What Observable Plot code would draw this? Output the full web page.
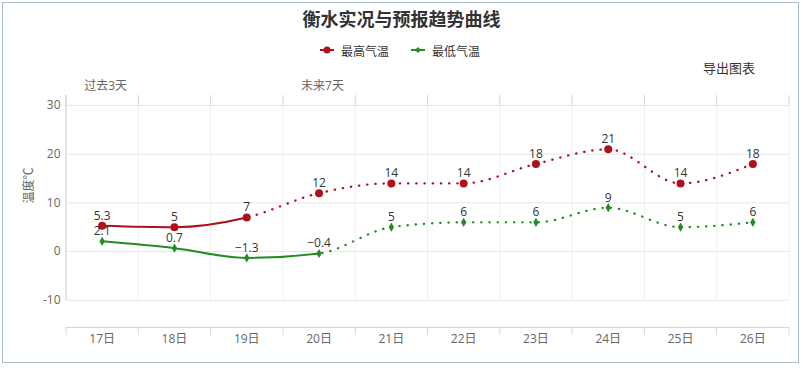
<!DOCTYPE html>
<html>
<head>
<meta charset="utf-8">
<script src="https://cdn.jsdelivr.net/npm/d3@7"></script>
<script src="https://cdn.jsdelivr.net/npm/@observablehq/plot@0.6"></script>
<style>
  html, body { margin: 0; padding: 0; background: #fff; }
  body { width: 803px; height: 368px; position: relative; overflow: hidden;
         font-family: "Open Sans", "Noto Sans CJK SC", sans-serif; }
  #frame { position: absolute; left: 2px; top: 2px; width: 795px; height: 359px;
           border: 1px solid #a9bccd; }
  #title { position: absolute; left: 0; top: 6px; width: 803px; text-align: center;
           font-family: "Noto Sans CJK SC", sans-serif; font-weight: bold; font-size: 18px;
           line-height: 24px; color: #333; }
  .legend-item { position: absolute; top: 41px; height: 18px; display: flex; align-items: center;
                 font-family: "Noto Sans CJK SC", sans-serif; font-size: 12px; color: #333; }
  .legend-item svg { margin-right: 7px; }
  #export { position: absolute; left: 703px; top: 59px; font-family: "Noto Sans CJK SC", sans-serif;
            font-size: 13px; line-height: 18px; color: #333; }
  #chart { position: absolute; left: 0; top: 74px; }
</style>
</head>
<body>
<div id="frame"></div>
<div id="title"></div>
<div id="legend"></div>
<div id="export"></div>
<div id="chart"></div>
<script>
// ---- data ----
const chartTitle = "衡水实况与预报趋势曲线";
const exportLabel = "导出图表";
const days = [17, 18, 19, 20, 21, 22, 23, 24, 25, 26];
const dayLabels = ["17日", "18日", "19日", "20日", "21日", "22日", "23日", "24日", "25日", "26日"];
const highTemps = [5.3, 5, 7, 12, 14, 14, 18, 21, 14, 18];
const lowTemps = [2.1, 0.7, -1.3, -0.4, 5, 6, 6, 9, 5, 6];
const highObservedUntil = 19;   // solid line up to this day, dotted after
const lowObservedUntil = 20;
const yTicks = [-10, 0, 10, 20, 30];
const periodLabels = ["过去3天", "未来7天"];
const periodDays = [17, 20];
const seriesNames = ["最高气温", "最低气温"];
const seriesColors = ["#b0101c", "#228b22"];
const yAxisLabel = "温度℃";

// ---- derived tables ----
const high = days.map((d, i) => ({day: d, t: highTemps[i]}));
const low = days.map((d, i) => ({day: d, t: lowTemps[i]}));
const xDomain = [days[0] - 0.5, days[days.length - 1] + 0.5];
const boundaries = d3.range(days.length + 1).map(i => days[0] - 0.5 + i);
const yDomain = [-15.6, 30];
const fmt = v => (v < 0 ? "\u2212" + Math.abs(v) : String(v));

// ---- HTML title / legend ----
document.getElementById("title").textContent = chartTitle;
document.getElementById("export").textContent = exportLabel;
const legendLefts = [320, 411];
seriesNames.forEach((name, i) => {
  const item = document.createElement("div");
  item.className = "legend-item";
  item.style.left = legendLefts[i] + "px";
  const marker = i === 0
    ? `<circle cx="7" cy="5" r="3.5" fill="${seriesColors[i]}"/>`
    : `<path d="M7,2 L10,5 L7,8 L4,5 Z" fill="${seriesColors[i]}"/>`;
  item.innerHTML = `<svg width="14" height="10"><line x1="0" y1="5" x2="14" y2="5" stroke="${seriesColors[i]}" stroke-width="2"/>${marker}</svg><span>${name}</span>`;
  document.getElementById("legend").appendChild(item);
});

// ---- chart ----
const W = 803, H = 290;
const plot = Plot.plot({
  width: W, height: H,
  marginLeft: 65.5, marginRight: 14.5, marginTop: 31, marginBottom: 37,
  x: {type: "linear", domain: xDomain, axis: null},
  y: {type: "linear", domain: yDomain, axis: null},
  style: {background: "transparent", fontFamily: "'Open Sans', 'Noto Sans CJK SC', sans-serif", fontSize: "12px", overflow: "visible"},
  marks: [
    // grid
    Plot.ruleY(yTicks, {y: d => d, stroke: "#e6e6e6", strokeWidth: 1}),
    Plot.ruleX(boundaries, {x: d => d, y1: yTicks[yTicks.length - 1], y2: yTicks[0], stroke: "#efefef"}),
    // top ticks
    Plot.ruleX(boundaries, {x: d => d, y1: yDomain[1], y2: yDomain[1], insetTop: -10, stroke: "#d4d4d4"}),
    // left axis line
    Plot.ruleX([xDomain[0]], {x: d => d, y1: yTicks[yTicks.length - 1], y2: yTicks[0], insetTop: -10, stroke: "#d0d0d0"}),
    // bottom axis line + ticks
    Plot.ruleY([yDomain[0]], {y: d => d, stroke: "#ccd6eb"}),
    Plot.ruleX(boundaries, {x: d => d, y1: yDomain[0], y2: yDomain[0], insetBottom: -8, stroke: "#ccd6eb"}),
    // axis labels
    Plot.text(days, {x: d => d, frameAnchor: "bottom", dy: 15, text: (d, i) => dayLabels[i], fill: "#666"}),
    Plot.text(yTicks, {y: d => d, frameAnchor: "left", dx: -5.5, textAnchor: "end", text: d => String(d), fill: "#666"}),
    Plot.text(periodLabels, {x: (d, i) => periodDays[i], frameAnchor: "top", dy: -24, dx: 3.5, text: d => d, fill: "#666"}),
    Plot.text([yAxisLabel], {frameAnchor: "left", rotate: -90, dx: -37, dy: -13, text: d => d, fill: "#666", fontFamily: "'Noto Sans CJK SC', sans-serif"}),
    // lines (solid and dotted versions, clipped afterwards)
    Plot.line(high, {x: "day", y: "t", stroke: seriesColors[0], strokeWidth: 2, curve: "monotone-x"}),
    Plot.line(high, {x: "day", y: "t", stroke: seriesColors[0], strokeWidth: 2.3, strokeDasharray: "0.3 7.9", strokeLinecap: "round", curve: "monotone-x"}),
    Plot.line(low, {x: "day", y: "t", stroke: seriesColors[1], strokeWidth: 2, curve: "monotone-x"}),
    Plot.line(low, {x: "day", y: "t", stroke: seriesColors[1], strokeWidth: 2.3, strokeDasharray: "0.3 7.9", strokeLinecap: "round", curve: "monotone-x"}),
    // markers
    Plot.dot(high, {x: "day", y: "t", r: 4, fill: seriesColors[0], stroke: "none"}),
    Plot.dot(low, {x: "day", y: "t", r: 2.8, symbol: "diamond", fill: seriesColors[1], stroke: "none"}),
    // value labels
    Plot.text(high, {x: "day", y: "t", text: d => fmt(d.t), dy: -10, fill: "#333"}),
    Plot.text(low, {x: "day", y: "t", text: d => fmt(d.t), dy: -10, fill: "#333"})
  ]
});

// clip solid/dotted parts of each line at the observed/forecast boundary
const ns = "http://www.w3.org/2000/svg";
const xs = plot.scale("x");
const defs = document.createElementNS(ns, "defs");
plot.insertBefore(defs, plot.firstChild);
function clip(id, x0, x1) {
  const cp = document.createElementNS(ns, "clipPath");
  cp.setAttribute("id", id);
  const r = document.createElementNS(ns, "rect");
  r.setAttribute("x", x0); r.setAttribute("y", -50);
  r.setAttribute("width", Math.max(0, x1 - x0)); r.setAttribute("height", H + 100);
  cp.appendChild(r); defs.appendChild(cp);
  return `url(#${id})`;
}
const lineGroups = plot.querySelectorAll('g[aria-label="line"]');
const hx = xs.apply(highObservedUntil), lx = xs.apply(lowObservedUntil);
if (lineGroups.length === 4) {
  lineGroups[0].setAttribute("clip-path", clip("hs", 0, hx));
  lineGroups[1].setAttribute("clip-path", clip("hd", hx, W));
  lineGroups[2].setAttribute("clip-path", clip("ls", 0, lx));
  lineGroups[3].setAttribute("clip-path", clip("ld", lx, W));
}
document.getElementById("chart").appendChild(plot);
</script>
</body>
</html>
